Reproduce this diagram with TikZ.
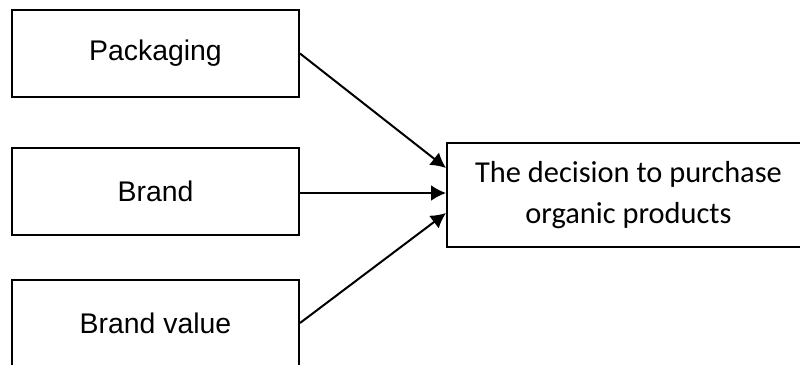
\documentclass[tikz,border=0pt]{standalone}
\usepackage{fontspec}
\setmainfont{Liberation Sans}
\newfontfamily\calibrifont{Carlito}
\usetikzlibrary{arrows.meta}
\begin{document}
\begin{tikzpicture}[x=0.5pt,y=-0.5pt,
    factor/.style={draw,line width=1pt,minimum width=143.5pt,minimum height=43.5pt,
      inner sep=0pt,font=\fontsize{14.2}{17}\selectfont},
    result/.style={draw,line width=1pt,minimum width=181.5pt,minimum height=52pt,
      inner sep=0pt,align=center,font=\calibrifont\fontsize{15.2}{20.5}\selectfont}]
      \clip (0,0) rectangle (800,365);
      \fill[white] (0,0) rectangle (800,365);
      \draw
        (155.5,53.5) node[factor] (pack){Packaging}
        (155.5,191) node[factor] (brand){Brand}
        (155.5,323) node[factor] (value){Brand value}
        (628.5,195) node[result] (dec){The decision to purchase\\organic products};
      \coordinate (mid) at ([yshift=-1pt]brand.east);
      \begin{scope}[line width=1pt,-{Latex[length=7.5pt,width=8pt]}]
        \draw (pack.east) to ([yshift=13.5pt]dec.west);
        \draw (mid) to (mid -| dec.west);
        \draw (value.east) to ([yshift=-9pt]dec.west);
      \end{scope}
    \end{tikzpicture}
\end{document}
